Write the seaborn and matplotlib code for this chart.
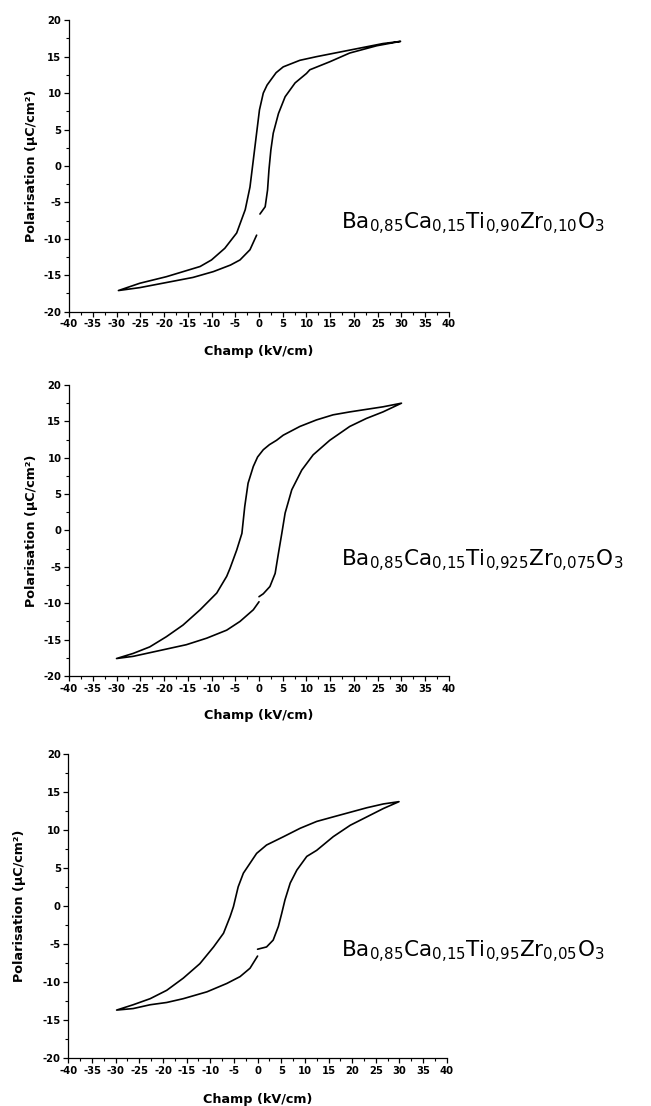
import matplotlib
matplotlib.use("Agg")
import matplotlib.pyplot as plt
import seaborn as sns
import numpy as np
from matplotlib.ticker import MultipleLocator

# Cycles P-E : debut a E=0, montee a +30, descente a -30, retour a 0
e1 = [0.2, 1.3, 1.8, 2.1, 2.5, 3.0, 4.1, 5.5, 7.6, 10.0, 10.7, 14.9, 19.1, 24.8, 29.8,
      26.1, 19.1, 12.1, 8.6, 5.1, 3.6, 2.7, 1.7, 0.9, 0.1, -0.6, -1.2, -1.9, -2.9, -4.7, -7.2,
      -10.0, -12.4, -19.5, -25.1, -29.6,
      -25.1, -19.5, -13.9, -9.6, -6.0, -4.0, -1.9, -0.5]
p1 = [-6.6, -5.6, -3.3, -0.5, 2.2, 4.5, 7.2, 9.5, 11.4, 12.7, 13.2, 14.3, 15.5, 16.5, 17.1,
      16.8, 15.9, 15.0, 14.5, 13.6, 12.8, 12.0, 11.1, 10.0, 7.7, 4.0, 0.8, -2.9, -6.0, -9.2, -11.3,
      -12.9, -13.8, -15.2, -16.1, -17.1,
      -16.7, -16.0, -15.3, -14.5, -13.6, -12.9, -11.5, -9.5]

e2 = [0.0, 0.9, 2.3, 3.4, 4.1, 4.8, 5.5, 6.9, 9.0, 11.4, 14.9, 19.1, 22.6, 26.1, 30.0,
      26.1, 19.1, 15.6, 12.1, 8.6, 5.1, 3.7, 2.2, 0.9, -0.3, -1.2, -2.3, -3.0, -3.6, -4.7, -6.1,
      -6.8, -8.9, -12.4, -16.0, -19.5, -23.0, -26.5, -30.0,
      -26.5, -23.0, -19.5, -15.3, -11.0, -6.8, -4.0, -1.2, 0.0]
p2 = [-9.1, -8.7, -7.7, -5.9, -3.1, -0.4, 2.4, 5.6, 8.3, 10.4, 12.4, 14.3, 15.4, 16.3, 17.5,
      17.0, 16.3, 15.9, 15.2, 14.3, 13.1, 12.4, 11.8, 11.1, 10.1, 8.8, 6.5, 3.3, -0.4, -2.7, -5.2,
      -6.3, -8.6, -10.9, -13.0, -14.6, -16.0, -16.9, -17.6,
      -17.3, -16.8, -16.3, -15.7, -14.8, -13.7, -12.5, -10.9, -9.8]

e3 = [0.0, 1.9, 3.3, 4.4, 5.1, 5.8, 6.9, 8.3, 10.4, 12.5, 16.0, 19.6, 23.1, 26.6, 29.9,
      26.6, 23.1, 16.0, 12.5, 9.0, 5.5, 1.9, -0.2, -1.6, -3.0, -4.1, -5.1, -5.8, -7.2,
      -9.3, -12.2, -15.7, -19.2, -22.7, -26.3, -29.8,
      -26.3, -22.7, -19.2, -15.7, -10.7, -6.5, -3.7, -1.6, 0.0]
p3 = [-5.7, -5.4, -4.5, -2.7, -1.0, 0.8, 3.0, 4.7, 6.5, 7.3, 9.1, 10.6, 11.7, 12.8, 13.7,
      13.4, 12.9, 11.7, 11.1, 10.2, 9.1, 8.0, 6.9, 5.6, 4.3, 2.5, -0.1, -1.4, -3.6,
      -5.4, -7.6, -9.5, -11.1, -12.2, -13.0, -13.7,
      -13.5, -13.0, -12.7, -12.2, -11.3, -10.2, -9.3, -8.2, -6.6]

formules = [r"$\mathregular{Ba_{0{,}85}Ca_{0{,}15}Ti_{0{,}90}Zr_{0{,}10}O_3}$",
            r"$\mathregular{Ba_{0{,}85}Ca_{0{,}15}Ti_{0{,}925}Zr_{0{,}075}O_3}$",
            r"$\mathregular{Ba_{0{,}85}Ca_{0{,}15}Ti_{0{,}95}Zr_{0{,}05}O_3}$"]

sns.set_style("ticks", {"axes.edgecolor": "black", "text.color": "black",
                        "xtick.color": "black", "ytick.color": "black",
                        "axes.labelcolor": "black"})
plt.rcParams["font.family"] = ["DejaVu Sans"]
plt.rcParams["font.weight"] = "bold"
plt.rcParams["axes.unicode_minus"] = False

fig = plt.figure(figsize=(6.51, 11.06), dpi=100)
# [gauche, bas, largeur, hauteur]
boites = [[0.106, 0.7182, 0.5837, 0.2635],
          [0.106, 0.3888, 0.5837, 0.2631],
          [0.105, 0.0434, 0.5813, 0.2751]]
textes_y = [229, 566, 957]
pads_y = [3.5, 4, 12]
pads_x = [11, 11, 12.5]

for i, (boite, e, p, formule) in enumerate(zip(boites, [e1, e2, e3], [p1, p2, p3], formules)):
    ax = fig.add_axes(boite)
    sns.lineplot(x=e, y=p, ax=ax, sort=False, estimator=None, color="black", lw=1.2)
    ax.set_xlim(-40, 40)
    ax.set_ylim(-20, 20)
    ax.xaxis.set_major_locator(MultipleLocator(5))
    ax.xaxis.set_minor_locator(MultipleLocator(2.5))
    ax.yaxis.set_major_locator(MultipleLocator(5))
    ax.yaxis.set_minor_locator(MultipleLocator(2.5))
    ax.tick_params(which="major", length=3.5, width=0.9, labelsize=7.2, pad=2)
    ax.tick_params(which="minor", length=2, width=0.8)
    for s in ["left", "bottom"]:
        ax.spines[s].set_linewidth(0.9)
    sns.despine(ax=ax)
    for lab in ax.get_xticklabels() + ax.get_yticklabels():
        lab.set_fontweight("bold")
    ax.set_xlabel("Champ (kV/cm)", fontsize=9.2, fontweight="bold", labelpad=pads_x[i])
    ax.set_ylabel("Polarisation (µC/cm²)", fontsize=9.2, fontweight="bold", labelpad=pads_y[i])
    fig.text(341 / 651, 1 - textes_y[i] / 1106, formule, fontsize=15.5, family="DejaVu Sans",
             ha="left", va="baseline", fontweight="normal", color="black")

fig.savefig("out.png", dpi=100)
